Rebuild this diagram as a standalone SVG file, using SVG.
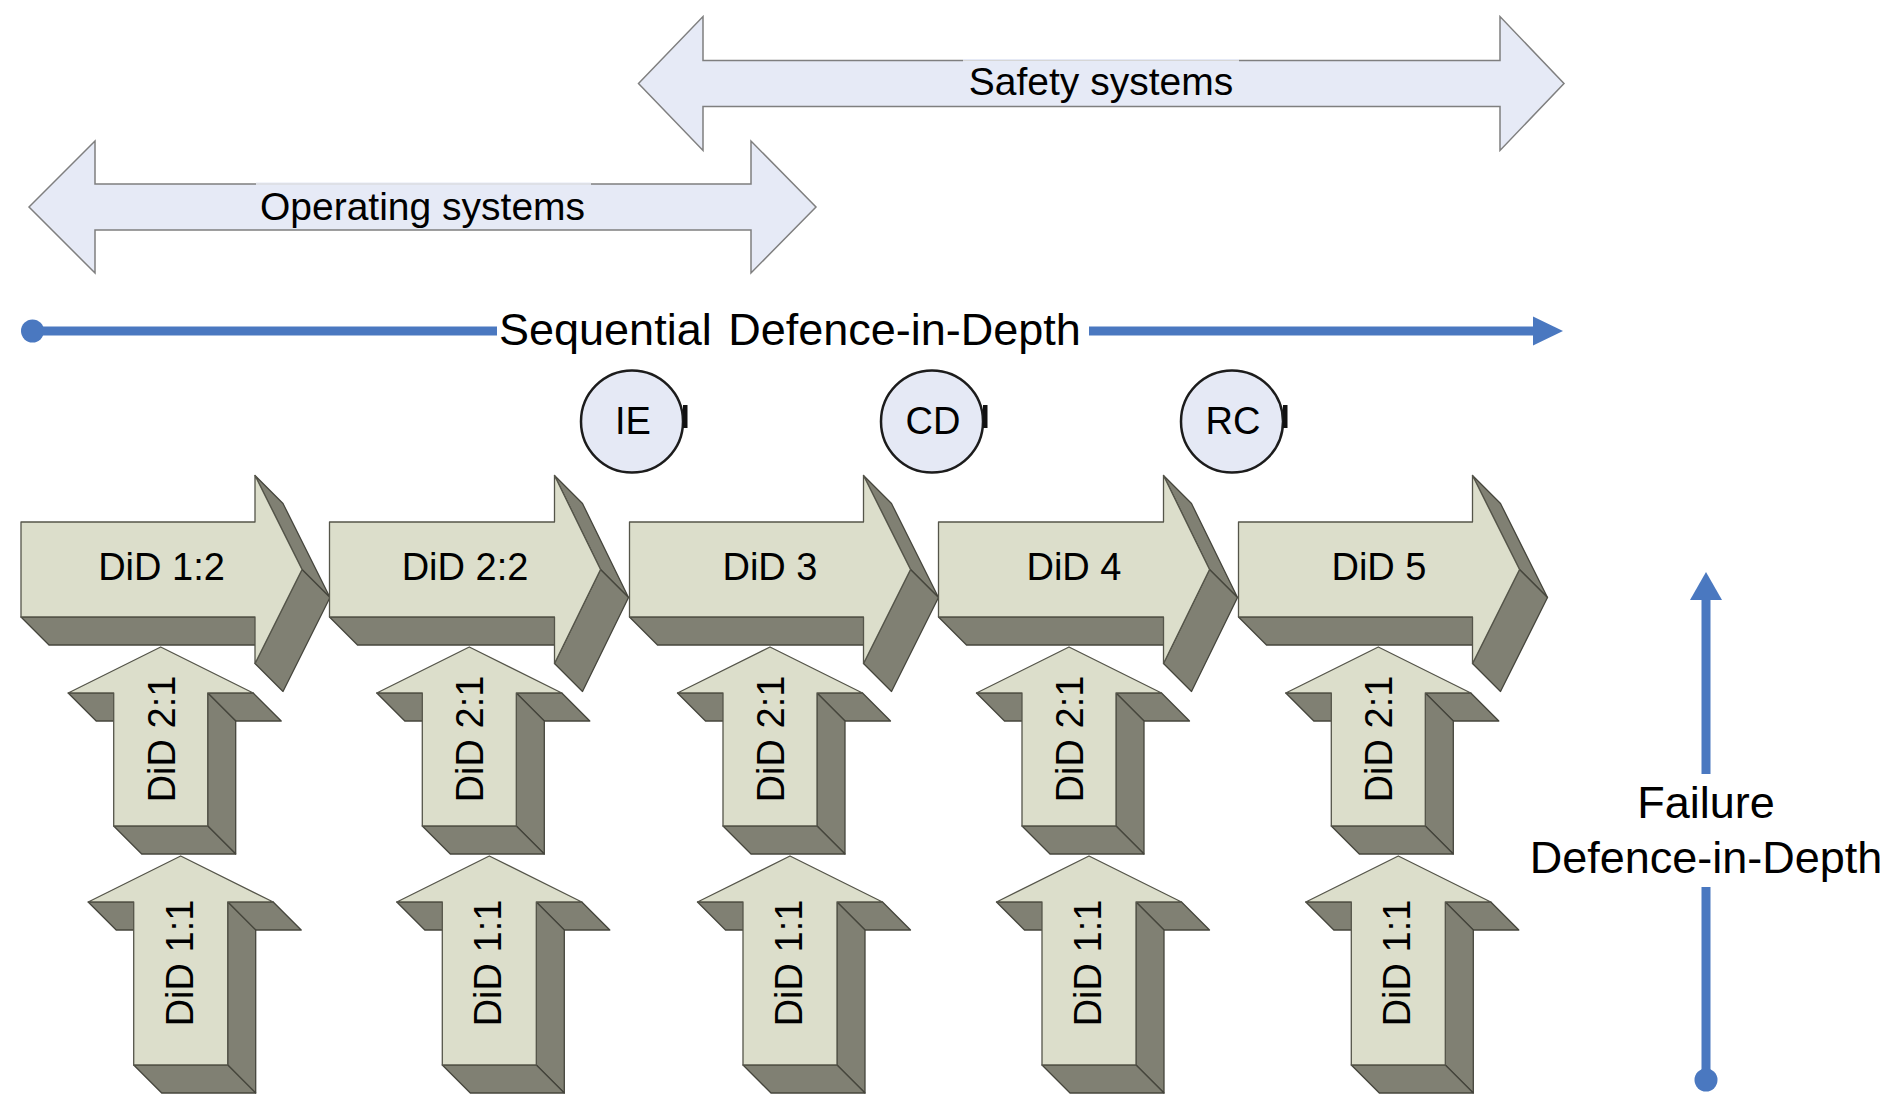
<svg xmlns="http://www.w3.org/2000/svg" width="1885" height="1099" viewBox="0 0 1885 1099">
<style>
.front{fill:#dcdecb;stroke:#55554a;stroke-width:1.3;stroke-linejoin:round}
.side{fill:#808073;stroke:#45453c;stroke-width:1.3;stroke-linejoin:round}
.dbl{fill:#e6eaf6;stroke:#7f7f7f;stroke-width:1.5}
.circ{fill:#e5e9f5;stroke:#1c1c1c;stroke-width:2.5}
.t{font-family:"Liberation Sans",Arial,sans-serif;fill:#000}
.blue{stroke:#4a78c0;stroke-width:9;fill:none}
</style>
<defs>
<g id="bigL">
<path class="side" d="M0,95 H234 L262,123 H28 Z"/>
<path class="side" d="M234,-46.5 L262,-18.5 L309,75.5 L281,47.5 Z"/>
<path class="side" d="M281,47.5 L309,75.5 L262,169.5 L234,141.5 Z"/>
<path class="front" d="M0,0 H234 V-46.5 L281,47.5 L234,141.5 V95 H0 Z"/>
</g>
<g id="bigS">
<path class="side" d="M0,95 H225 L253,123 H28 Z"/>
<path class="side" d="M225,-46.5 L253,-18.5 L299,75.5 L271,47.5 Z"/>
<path class="side" d="M271,47.5 L299,75.5 L253,169.5 L225,141.5 Z"/>
<path class="front" d="M0,0 H225 V-46.5 L271,47.5 L225,141.5 V95 H0 Z"/>
</g>
<g id="up2">
<path class="side" d="M-92.5,46 H-47 L-19,74 H-64.5 Z"/>
<path class="side" d="M47,46 H92.5 L120.5,74 H75 Z"/>
<path class="side" d="M47,46 L75,74 V207 L47,179 Z"/>
<path class="side" d="M-47,179 H47 L75,207 H-19 Z"/>
<path class="front" d="M0,0 L92.5,46 H47 V179 H-47 V46 H-92.5 Z"/>
</g>
<g id="up1">
<path class="side" d="M-92.5,46 H-47 L-19,74 H-64.5 Z"/>
<path class="side" d="M47,46 H92.5 L120.5,74 H75 Z"/>
<path class="side" d="M47,46 L75,74 V237 L47,209 Z"/>
<path class="side" d="M-47,209 H47 L75,237 H-19 Z"/>
<path class="front" d="M0,0 L92.5,46 H47 V209 H-47 V46 H-92.5 Z"/>
</g>
</defs>

<g id="safety-systems">
<path class="dbl" d="M638.5,83.5 L703,16.5 V60.5 H1500 V16.5 L1564,83.5 L1500,150.5 V106.5 H703 V150.5 Z"/>
<rect x="963" y="59" width="276" height="3" fill="#e6eaf6"/>
<line x1="963" y1="60.5" x2="1239" y2="60.5" stroke="#d6d6d6" stroke-width="1"/>
<text class="t" x="1101" y="95" font-size="39" text-anchor="middle">Safety systems</text>
</g>

<g id="operating-systems">
<path class="dbl" d="M29,207 L95,141 V184 H751 V141 L816,207 L751,273 V230 H95 V273 Z"/>
<rect x="256" y="182.5" width="335" height="3" fill="#e6eaf6"/>
<line x1="256" y1="184" x2="591" y2="184" stroke="#d6d6d6" stroke-width="1"/>
<text class="t" x="422.5" y="220" font-size="39" text-anchor="middle">Operating systems</text>
</g>

<g id="connectors">
<g id="sequential-did">
<circle cx="32.5" cy="331" r="11.5" fill="#4a78c0"/>
<line class="blue" x1="32" y1="331" x2="497" y2="331"/>
<line class="blue" x1="1089" y1="331" x2="1535" y2="331"/>
<path d="M1563,331 L1533,316.5 L1533,345.5 Z" fill="#4a78c0"/>
<text class="t" x="499" y="345" font-size="45" word-spacing="4">Sequential Defence-in-Depth</text>
</g>
<g id="failure-did">
<circle cx="1706" cy="1080" r="11.5" fill="#4a78c0"/>
<line class="blue" x1="1706" y1="598" x2="1706" y2="774"/>
<line class="blue" x1="1706" y1="887" x2="1706" y2="1080"/>
<path d="M1706,572 L1690,600 L1722,600 Z" fill="#4a78c0"/>
<text class="t" x="1706" y="818" font-size="45" text-anchor="middle">Failure</text>
<text class="t" x="1706" y="873" font-size="45" text-anchor="middle">Defence-in-Depth</text>
</g>
</g>

<g id="event-ie">
<circle class="circ" cx="632" cy="421.5" r="51"/>
<rect x="683" y="405" width="4.5" height="23" fill="#111"/>
<text class="t" x="633" y="434" font-size="38" text-anchor="middle">IE</text>
</g>
<g id="event-cd">
<circle class="circ" cx="932" cy="421.5" r="51"/>
<rect x="983" y="405" width="4.5" height="23" fill="#111"/>
<text class="t" x="933" y="434" font-size="38" text-anchor="middle">CD</text>
</g>
<g id="event-rc">
<circle class="circ" cx="1232" cy="421.5" r="51"/>
<rect x="1283" y="405" width="4.5" height="23" fill="#111"/>
<text class="t" x="1233" y="434" font-size="38" text-anchor="middle">RC</text>
</g>

<g id="did-1-2"><use href="#bigL" x="21" y="522"/><text class="t" x="161.5" y="580" font-size="38" text-anchor="middle">DiD 1:2</text></g>
<g id="did-2-2"><use href="#bigS" x="329.5" y="522"/><text class="t" x="465" y="580" font-size="38" text-anchor="middle">DiD 2:2</text></g>
<g id="did-3"><use href="#bigL" x="629.5" y="522"/><text class="t" x="770" y="580" font-size="38" text-anchor="middle">DiD 3</text></g>
<g id="did-4"><use href="#bigS" x="938.5" y="522"/><text class="t" x="1074" y="580" font-size="38" text-anchor="middle">DiD 4</text></g>
<g id="did-5"><use href="#bigL" x="1238.5" y="522"/><text class="t" x="1379" y="580" font-size="38" text-anchor="middle">DiD 5</text></g>

<g id="col1-did-2-1"><use href="#up2" x="160.7" y="647"/><text class="t" font-size="38" text-anchor="middle" transform="translate(174.7,739) rotate(-90)">DiD 2:1</text></g>
<g id="col2-did-2-1"><use href="#up2" x="469.3" y="647"/><text class="t" font-size="38" text-anchor="middle" transform="translate(483.3,739) rotate(-90)">DiD 2:1</text></g>
<g id="col3-did-2-1"><use href="#up2" x="770" y="647"/><text class="t" font-size="38" text-anchor="middle" transform="translate(784,739) rotate(-90)">DiD 2:1</text></g>
<g id="col4-did-2-1"><use href="#up2" x="1069" y="647"/><text class="t" font-size="38" text-anchor="middle" transform="translate(1083,739) rotate(-90)">DiD 2:1</text></g>
<g id="col5-did-2-1"><use href="#up2" x="1378.3" y="647"/><text class="t" font-size="38" text-anchor="middle" transform="translate(1392.3,739) rotate(-90)">DiD 2:1</text></g>

<g id="col1-did-1-1"><use href="#up1" x="180.7" y="856"/><text class="t" font-size="38" text-anchor="middle" transform="translate(192.7,963) rotate(-90)">DiD 1:1</text></g>
<g id="col2-did-1-1"><use href="#up1" x="489.3" y="856"/><text class="t" font-size="38" text-anchor="middle" transform="translate(501.3,963) rotate(-90)">DiD 1:1</text></g>
<g id="col3-did-1-1"><use href="#up1" x="790" y="856"/><text class="t" font-size="38" text-anchor="middle" transform="translate(802,963) rotate(-90)">DiD 1:1</text></g>
<g id="col4-did-1-1"><use href="#up1" x="1089" y="856"/><text class="t" font-size="38" text-anchor="middle" transform="translate(1101,963) rotate(-90)">DiD 1:1</text></g>
<g id="col5-did-1-1"><use href="#up1" x="1398.3" y="856"/><text class="t" font-size="38" text-anchor="middle" transform="translate(1410.3,963) rotate(-90)">DiD 1:1</text></g>
</svg>
